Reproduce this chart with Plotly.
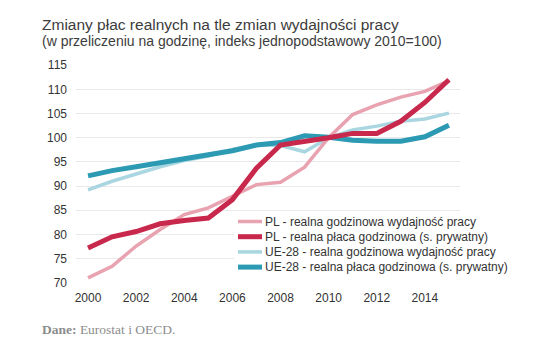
import plotly.graph_objects as go

years = list(range(2000, 2016))
pl_productivity = [71.0, 73.4, 77.6, 81.0, 84.1, 85.5, 87.9, 90.3, 90.8, 93.9, 100.0, 104.8, 106.8, 108.4, 109.6, 111.8]
pl_wages = [77.2, 79.5, 80.6, 82.2, 82.9, 83.4, 87.2, 93.7, 98.5, 99.2, 100.0, 100.9, 100.9, 103.4, 107.3, 112.0]
eu_productivity = [89.2, 91.0, 92.5, 94.0, 95.3, 96.2, 97.6, 98.5, 98.4, 97.1, 100.0, 101.6, 102.4, 103.4, 103.9, 105.1]
eu_wages = [92.1, 93.2, 94.0, 94.9, 95.8, 96.5, 97.3, 98.5, 99.0, 100.4, 100.1, 99.5, 99.3, 99.3, 100.2, 102.6]

series_names = [
    "PL - realna godzinowa wydajność pracy",
    "PL - realna płaca godzinowa (s. prywatny)",
    "UE-28 - realna godzinowa wydajność pracy",
    "UE-28 - realna płaca godzinowa (s. prywatny)",
]
series_values = [pl_productivity, pl_wages, eu_productivity, eu_wages]
colors = ["#e8a2b0", "#c8284c", "#a9d6e0", "#2c9ab2"]
widths = [3.5, 5, 3.5, 5]

y_ticks = list(range(70, 116, 5))
x_ticks = list(range(2000, 2015, 2))

title_lines = ["Zmiany płac realnych na tle zmian wydajności pracy",
               "(w przeliczeniu na godzinę, indeks jednopodstawowy 2010=100)"]
source_text = "<b>Dane:</b> Eurostat i OECD."

OFF = 8  # page body margin
W, H = 553 - OFF, 355 - OFF
L, R, T, B = 76 - OFF, 93, 65 - OFF, 72
pw, ph = W - L - R, H - T - B

fig = go.Figure()
draw_order = [2, 0, 3, 1]
for i in draw_order:
    fig.add_trace(go.Scatter(
        x=years, y=series_values[i], name=series_names[i], mode="lines",
        line=dict(color=colors[i], width=widths[i]), showlegend=False,
        hoverinfo="x+y+name",
    ))

def px_to_paper(px, py):
    fx, fy = px - OFF, py - OFF
    return (fx - L) / pw, (H - B - fy) / ph

shapes = []
annotations = []
x0, y0 = px_to_paper(234, 212)
x1, y1 = px_to_paper(515, 276)
shapes.append(dict(type="rect", xref="paper", yref="paper", x0=x0, y0=y1, x1=x1, y1=y0,
                   fillcolor="white", line=dict(width=0), layer="above"))
for i, name in enumerate(series_names):
    py = 221.5 + 15.2 * i
    lx0, ly = px_to_paper(238, py)
    lx1, _ = px_to_paper(262, py)
    shapes.append(dict(type="line", xref="paper", yref="paper", x0=lx0, x1=lx1, y0=ly, y1=ly,
                       line=dict(color=colors[i], width=widths[i]), layer="above"))
    tx, _ = px_to_paper(263, py)
    annotations.append(dict(xref="paper", yref="paper", x=tx, y=ly, text=name, showarrow=False,
                            xanchor="left", yanchor="middle",
                            font=dict(family="Liberation Sans, Arial", size=12, color="#333333")))

title_sizes = [15.5, 14]
title_mid_y = [24.5, 40.5]
for text, size, my in zip(title_lines, title_sizes, title_mid_y):
    tx, ty = px_to_paper(40, my)
    annotations.append(dict(xref="paper", yref="paper", x=tx, y=ty, text=text,
                            showarrow=False, xanchor="left", yanchor="middle", align="left",
                            font=dict(family="Liberation Sans, Arial", size=size, color="#3c3c3c")))
sx, sy = px_to_paper(40, 329)
annotations.append(dict(xref="paper", yref="paper", x=sx, y=sy, text=source_text,
                        showarrow=False, xanchor="left", yanchor="middle",
                        font=dict(family="Liberation Serif, DejaVu Serif, serif", size=13.5, color="#8c8c8c")))

fig.update_layout(
    width=W, height=H,
    margin=dict(l=L, r=R, t=T, b=B, pad=0),
    paper_bgcolor="white", plot_bgcolor="white",
    shapes=shapes, annotations=annotations,
    xaxis=dict(range=[1999.5, 2015.46], tickvals=x_ticks, ticktext=[str(v) for v in x_ticks],
               showgrid=False, zeroline=False, showline=False, ticks="",
               ticklabelstandoff=6,
               tickfont=dict(family="Liberation Sans, Arial", size=12, color="#333333")),
    yaxis=dict(range=[69.95, 115.05], tickvals=y_ticks, ticktext=[str(v) for v in y_ticks],
               showgrid=True, gridcolor="#e9e9e9", gridwidth=1, zeroline=False, showline=False,
               ticks="", ticklabelstandoff=8,
               tickfont=dict(family="Liberation Sans, Arial", size=12, color="#333333")),
    hovermode="closest",
)

fig.write_html("out.html")
